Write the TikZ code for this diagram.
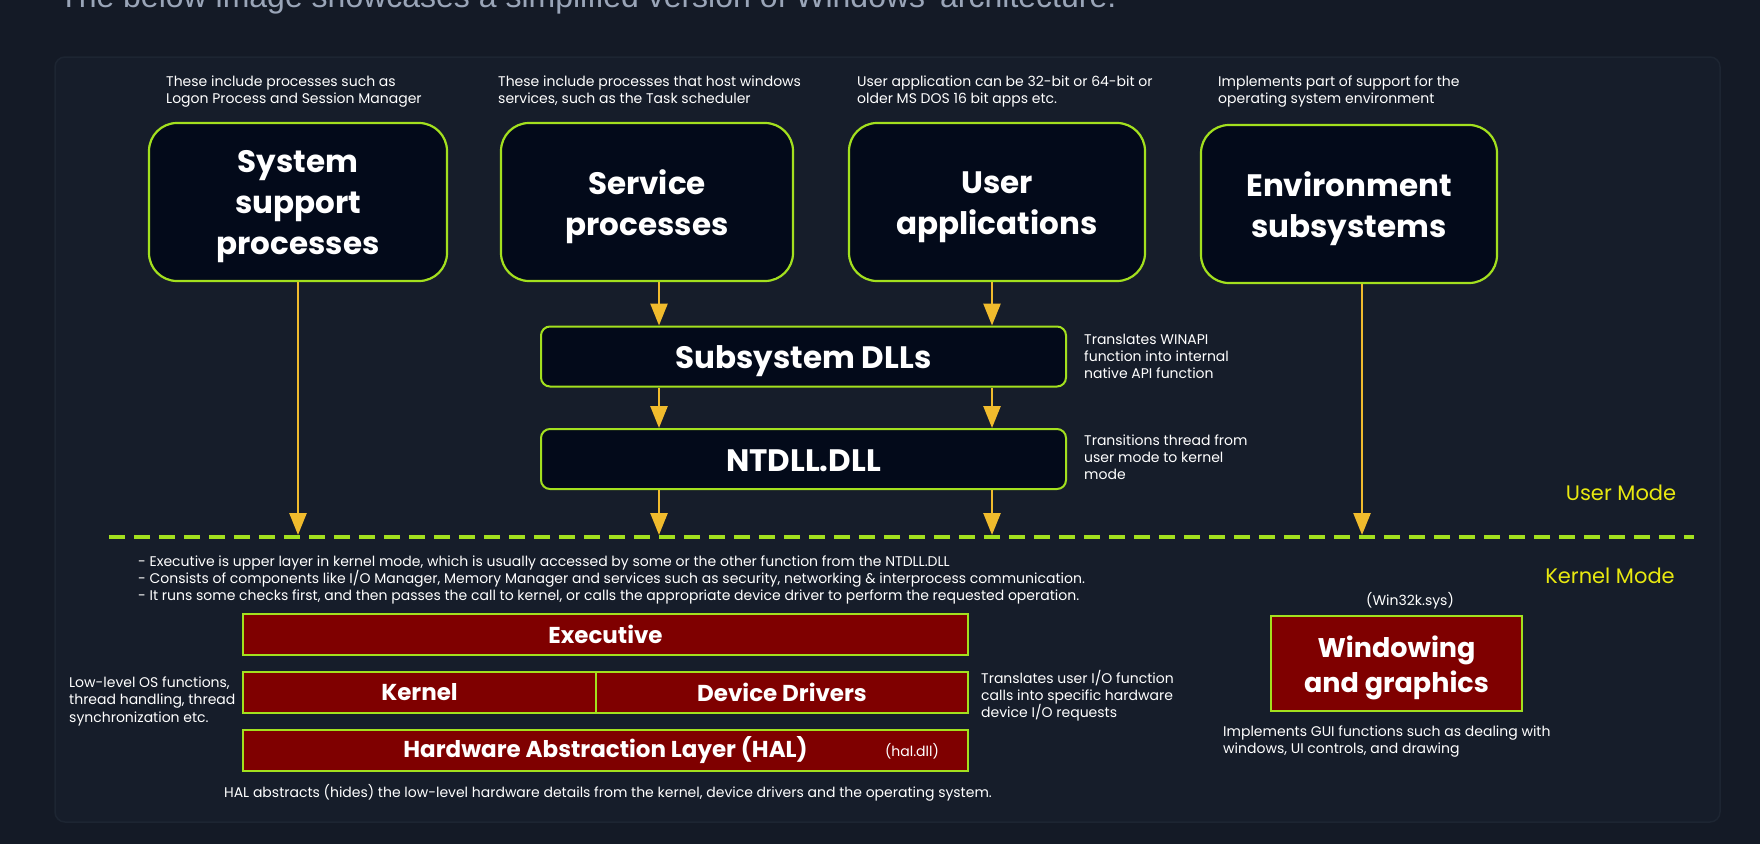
\documentclass[tikz,border=0pt]{standalone}
\usepackage{fontspec}
\setmainfont{Poppins}
\newfontfamily\hdrfont{Liberation Sans}
\usetikzlibrary{arrows.meta,calc}
\definecolor{bgout}{HTML}{141A26}
\definecolor{panelc}{HTML}{161D2A}
\definecolor{panelb}{HTML}{1D2532}
\definecolor{lime}{HTML}{A3E01E}
\definecolor{boxfill}{HTML}{030A1A}
\definecolor{krn}{HTML}{7F0000}
\definecolor{arrowc}{HTML}{F0BB2D}
\definecolor{ymode}{HTML}{E8E810}
\definecolor{hdr}{HTML}{9AA5B8}
\tikzset{
 titlebox/.style={draw=lime, line width=2.2pt, fill=boxfill, rounded corners=28pt, inner sep=0pt, minimum height=158pt},
 titletext/.style={text=white, font=\bfseries\fontsize{31}{41}\selectfont, align=center, inner sep=0pt, yshift=-5pt},
 dllbox/.style={draw=lime, line width=2pt, fill=boxfill, rounded corners=9pt, inner sep=0pt, minimum width=525pt, minimum height=60pt},
 krnbox/.style={draw=lime, line width=2pt, fill=krn, text=white, font=\bfseries\fontsize{23}{28}\selectfont, inner sep=0pt, minimum height=41pt},
 note/.style={text=white, font=\fontsize{14}{17.3}\selectfont, align=left, inner sep=0pt, anchor=base west},
 flow/.style={draw=arrowc, line width=2.6pt, -{Triangle[width=17pt,length=22pt]}},
 modetext/.style={text=ymode, font=\fontsize{21}{21}\selectfont, inner sep=0pt, anchor=base},
 dashline/.style={draw=lime, line width=4pt, dash pattern=on 16pt off 9pt},
}
\begin{document}
\begin{tikzpicture}[x=1pt,y=-1pt]
\fill[bgout] (0,0) rectangle (1760,844);
\useasboundingbox (0,0) rectangle (1760,844);
\node[anchor=base west, inner sep=0pt, text=hdr, font=\hdrfont\fontsize{32}{32}\selectfont] (hdrtxt) at (59,7.5) {The below image showcases a simplified version of Windows' architecture.};
\draw[fill=panelc, draw=panelb, line width=1.5pt, rounded corners=10pt] (55,57) rectangle (1720,822);

% top descriptions (anchor = baseline of last line)
\node[note] (dsys) at (166,103.3) {These include processes such as\\Logon Process and Session Manager};
\node[note] (dsvc) at (498,103.3) {These include processes that host windows\\services, such as the Task scheduler};
\node[note] (dusr) at (857,103.3) {User application can be 32-bit or 64-bit or\\older MS DOS 16 bit apps etc.};
\node[note] (denv) at (1218,103.3) {Implements part of support for the\\operating system environment};

% top boxes
\node[titlebox, minimum width=298pt, label={[titletext]center:{System\\support\\processes}}] (sys) at (298,202) {};
\node[titlebox, minimum width=292pt, label={[titletext]center:{Service\\processes}}] (svc) at (647,202) {};
\node[titlebox, minimum width=296pt, label={[titletext]center:{User\\applications}}] (usr) at (997,202) {};
\node[titlebox, minimum width=296pt, label={[titletext]center:{Environment\\subsystems}}] (env) at (1349,204) {};

% dll boxes
\node[dllbox, label={[titletext]center:{Subsystem DLLs}}] (sub) at (803.5,356.5) {};
\node[dllbox, label={[titletext,yshift=3pt]center:{NTDLL.DLL}}] (ntd) at (803.5,459) {};
\node[note] (dsub) at (1084,378.6) {Translates WINAPI\\function into internal\\native API function};
\node[note] (dntd) at (1084,479.6) {Transitions thread from\\user mode to kernel\\mode};

% mode line
\coordinate (dl) at (109,537);
\coordinate (dr) at (1694,537);
\draw[dashline] (dl) -- (dr);
\node[modetext] (umode) at (1621,500) {User Mode};
\node[modetext] (kmode) at (1610,583) {Kernel Mode};

% arrows
\coordinate (xa) at (659,535);
\coordinate (xb) at (992,535);
\coordinate (xe) at (1362,535);
\draw[flow] (sys.south) -- (sys.south |- xa);
\draw[flow] (svc.south -| xa) -- (sub.north -| xa);
\draw[flow] (usr.south -| xb) -- (sub.north -| xb);
\draw[flow] (sub.south -| xa) -- (ntd.north -| xa);
\draw[flow] (sub.south -| xb) -- (ntd.north -| xb);
\draw[flow] (ntd.south -| xa) -- (xa);
\draw[flow] (ntd.south -| xb) -- (xb);
\draw[flow] (env.south -| xe) -- (xe);

% kernel part
\node[note] (dexe) at (138,600.6) {- Executive is upper layer in kernel mode, which is usually accessed by some or the other function from the NTDLL.DLL\\- Consists of components like I/O Manager, Memory Manager and services such as security, networking \& interprocess communication.\\- It runs some checks first, and then passes the call to kernel, or calls the appropriate device driver to perform the requested operation.};
\node[krnbox, minimum width=725pt] (exe) at (605.5,634.5) {Executive};
\node[krnbox, minimum width=353pt] (ker) at (419.5,692.5) {Kernel};
\node[krnbox, minimum width=372pt] (drv) at (782,692.5) {Device Drivers};
\node[krnbox, minimum width=725pt] (hal) at (605.5,750.5) {Hardware Abstraction Layer (HAL)};
\node[text=white, inner sep=0pt, font=\fontsize{14}{14}\selectfont] (hald) at (912,751) {(hal.dll)};
\node[note] (dker) at (69,722) {Low-level OS functions,\\thread handling, thread\\synchronization etc.};
\node[note] (ddrv) at (981,717.6) {Translates user I/O function\\calls into specific hardware\\device I/O requests};
\node[note, anchor=base] (dhal) at (608,797) {HAL abstracts (hides) the low-level hardware details from the kernel, device drivers and the operating system.};

% windowing
\node[draw=lime, line width=2pt, fill=krn, inner sep=0pt, minimum width=251pt, minimum height=95pt,
  label={[titletext, font=\bfseries\fontsize{27}{35}\selectfont, yshift=1pt]center:{Windowing\\and graphics}}] (win) at (1396.5,663.5) {};
\node[note, anchor=base] (dwk) at (1410,605) {(Win32k.sys)};
\node[note] (dwin) at (1223,753.3) {Implements GUI functions such as dealing with\\windows, UI controls, and drawing};
\end{tikzpicture}
\end{document}
